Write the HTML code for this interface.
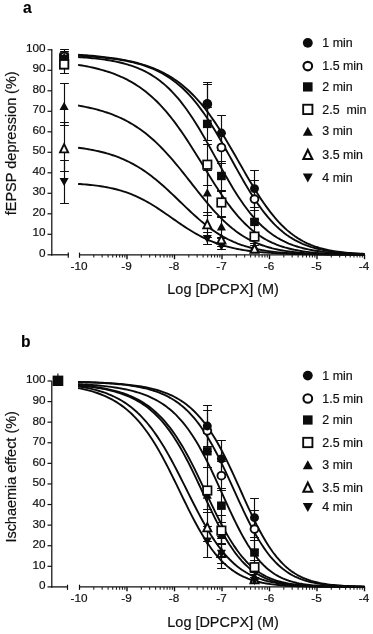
<!DOCTYPE html>
<html>
<head>
<meta charset="utf-8">
<title>DPCPX dose-response</title>
<style>
html,body{margin:0;padding:0;background:#fff;}
body{width:373px;height:634px;overflow:hidden;}
svg{display:block;will-change:transform;}
text{font-family:"Liberation Sans",sans-serif;fill:#111;stroke:#111;stroke-width:0.2px;}
.tk{font-size:11.75px;}
.tt{font-size:14.45px;}
.lg{font-size:12.4px;white-space:pre;}
.lt{font-size:15.6px;font-weight:bold;fill:#000;stroke-width:0.15px;}
</style>
</head>
<body>
<svg width="373" height="634" viewBox="0 0 373 634">
<rect width="373" height="634" fill="#fff"/>
<g id="chart-a">
<path d="M51.8 49 V255.4" stroke="#111" stroke-width="1.25" fill="none"/>
<path d="M47.5 254.8 H51.8" stroke="#111" stroke-width="1.2"/>
<text x="45.6" y="256.5" text-anchor="end" class="tk">0</text>
<path d="M47.5 234.3 H51.8" stroke="#111" stroke-width="1.2"/>
<text x="45.6" y="236" text-anchor="end" class="tk">10</text>
<path d="M47.5 213.8 H51.8" stroke="#111" stroke-width="1.2"/>
<text x="45.6" y="215.5" text-anchor="end" class="tk">20</text>
<path d="M47.5 193.3 H51.8" stroke="#111" stroke-width="1.2"/>
<text x="45.6" y="195" text-anchor="end" class="tk">30</text>
<path d="M47.5 172.8 H51.8" stroke="#111" stroke-width="1.2"/>
<text x="45.6" y="174.5" text-anchor="end" class="tk">40</text>
<path d="M47.5 152.3 H51.8" stroke="#111" stroke-width="1.2"/>
<text x="45.6" y="154" text-anchor="end" class="tk">50</text>
<path d="M47.5 131.8 H51.8" stroke="#111" stroke-width="1.2"/>
<text x="45.6" y="133.5" text-anchor="end" class="tk">60</text>
<path d="M47.5 111.3 H51.8" stroke="#111" stroke-width="1.2"/>
<text x="45.6" y="113" text-anchor="end" class="tk">70</text>
<path d="M47.5 90.8 H51.8" stroke="#111" stroke-width="1.2"/>
<text x="45.6" y="92.5" text-anchor="end" class="tk">80</text>
<path d="M47.5 70.3 H51.8" stroke="#111" stroke-width="1.2"/>
<text x="45.6" y="72" text-anchor="end" class="tk">90</text>
<path d="M47.5 49.8 H51.8" stroke="#111" stroke-width="1.2"/>
<text x="45.6" y="51.5" text-anchor="end" class="tk">100</text>
<path d="M51.1 254.8 H68.7" stroke="#111" stroke-width="1.3" fill="none"/>
<path d="M68.3 252.6 V257.8" stroke="#111" stroke-width="1.2"/>
<path d="M79 254.8 H365.1" stroke="#111" stroke-width="1.3" fill="none"/>
<path d="M79.5 252.6 V257.8" stroke="#111" stroke-width="1.2"/>
<text x="79" y="270" text-anchor="middle" class="tk">-10</text>
<path d="M93.8 254.8 V257.6" stroke="#1a1a1a" stroke-width="1.05"/>
<path d="M102.16 254.8 V257.6" stroke="#1a1a1a" stroke-width="1.05"/>
<path d="M108.1 254.8 V257.6" stroke="#1a1a1a" stroke-width="1.05"/>
<path d="M112.7 254.8 V257.6" stroke="#1a1a1a" stroke-width="1.05"/>
<path d="M116.46 254.8 V257.6" stroke="#1a1a1a" stroke-width="1.05"/>
<path d="M119.64 254.8 V257.6" stroke="#1a1a1a" stroke-width="1.05"/>
<path d="M122.4 254.8 V257.6" stroke="#1a1a1a" stroke-width="1.05"/>
<path d="M124.83 254.8 V257.6" stroke="#1a1a1a" stroke-width="1.05"/>
<path d="M127 254.8 V259.2" stroke="#111" stroke-width="1.4"/>
<text x="126.5" y="270" text-anchor="middle" class="tk">-9</text>
<path d="M141.3 254.8 V257.6" stroke="#1a1a1a" stroke-width="1.05"/>
<path d="M149.66 254.8 V257.6" stroke="#1a1a1a" stroke-width="1.05"/>
<path d="M155.6 254.8 V257.6" stroke="#1a1a1a" stroke-width="1.05"/>
<path d="M160.2 254.8 V257.6" stroke="#1a1a1a" stroke-width="1.05"/>
<path d="M163.96 254.8 V257.6" stroke="#1a1a1a" stroke-width="1.05"/>
<path d="M167.14 254.8 V257.6" stroke="#1a1a1a" stroke-width="1.05"/>
<path d="M169.9 254.8 V257.6" stroke="#1a1a1a" stroke-width="1.05"/>
<path d="M172.33 254.8 V257.6" stroke="#1a1a1a" stroke-width="1.05"/>
<path d="M174.5 254.8 V259.2" stroke="#111" stroke-width="1.4"/>
<text x="174" y="270" text-anchor="middle" class="tk">-8</text>
<path d="M188.8 254.8 V257.6" stroke="#1a1a1a" stroke-width="1.05"/>
<path d="M197.16 254.8 V257.6" stroke="#1a1a1a" stroke-width="1.05"/>
<path d="M203.1 254.8 V257.6" stroke="#1a1a1a" stroke-width="1.05"/>
<path d="M207.7 254.8 V257.6" stroke="#1a1a1a" stroke-width="1.05"/>
<path d="M211.46 254.8 V257.6" stroke="#1a1a1a" stroke-width="1.05"/>
<path d="M214.64 254.8 V257.6" stroke="#1a1a1a" stroke-width="1.05"/>
<path d="M217.4 254.8 V257.6" stroke="#1a1a1a" stroke-width="1.05"/>
<path d="M219.83 254.8 V257.6" stroke="#1a1a1a" stroke-width="1.05"/>
<path d="M222 254.8 V259.2" stroke="#111" stroke-width="1.4"/>
<text x="221.5" y="270" text-anchor="middle" class="tk">-7</text>
<path d="M236.3 254.8 V257.6" stroke="#1a1a1a" stroke-width="1.05"/>
<path d="M244.66 254.8 V257.6" stroke="#1a1a1a" stroke-width="1.05"/>
<path d="M250.6 254.8 V257.6" stroke="#1a1a1a" stroke-width="1.05"/>
<path d="M255.2 254.8 V257.6" stroke="#1a1a1a" stroke-width="1.05"/>
<path d="M258.96 254.8 V257.6" stroke="#1a1a1a" stroke-width="1.05"/>
<path d="M262.14 254.8 V257.6" stroke="#1a1a1a" stroke-width="1.05"/>
<path d="M264.9 254.8 V257.6" stroke="#1a1a1a" stroke-width="1.05"/>
<path d="M267.33 254.8 V257.6" stroke="#1a1a1a" stroke-width="1.05"/>
<path d="M269.5 254.8 V259.2" stroke="#111" stroke-width="1.4"/>
<text x="269" y="270" text-anchor="middle" class="tk">-6</text>
<path d="M283.8 254.8 V257.6" stroke="#1a1a1a" stroke-width="1.05"/>
<path d="M292.16 254.8 V257.6" stroke="#1a1a1a" stroke-width="1.05"/>
<path d="M298.1 254.8 V257.6" stroke="#1a1a1a" stroke-width="1.05"/>
<path d="M302.7 254.8 V257.6" stroke="#1a1a1a" stroke-width="1.05"/>
<path d="M306.46 254.8 V257.6" stroke="#1a1a1a" stroke-width="1.05"/>
<path d="M309.64 254.8 V257.6" stroke="#1a1a1a" stroke-width="1.05"/>
<path d="M312.4 254.8 V257.6" stroke="#1a1a1a" stroke-width="1.05"/>
<path d="M314.83 254.8 V257.6" stroke="#1a1a1a" stroke-width="1.05"/>
<path d="M317 254.8 V259.2" stroke="#111" stroke-width="1.4"/>
<text x="316.5" y="270" text-anchor="middle" class="tk">-5</text>
<path d="M331.3 254.8 V257.6" stroke="#1a1a1a" stroke-width="1.05"/>
<path d="M339.66 254.8 V257.6" stroke="#1a1a1a" stroke-width="1.05"/>
<path d="M345.6 254.8 V257.6" stroke="#1a1a1a" stroke-width="1.05"/>
<path d="M350.2 254.8 V257.6" stroke="#1a1a1a" stroke-width="1.05"/>
<path d="M353.96 254.8 V257.6" stroke="#1a1a1a" stroke-width="1.05"/>
<path d="M357.14 254.8 V257.6" stroke="#1a1a1a" stroke-width="1.05"/>
<path d="M359.9 254.8 V257.6" stroke="#1a1a1a" stroke-width="1.05"/>
<path d="M362.33 254.8 V257.6" stroke="#1a1a1a" stroke-width="1.05"/>
<path d="M364.5 254.8 V259.2" stroke="#111" stroke-width="1.4"/>
<text x="364" y="270" text-anchor="middle" class="tk">-4</text>
<text x="223.1" y="294.4" text-anchor="middle" class="tt">Log [DPCPX] (M)</text>
<text transform="translate(15.9 215.3) rotate(-90)" textLength="117.6" lengthAdjust="spacingAndGlyphs" class="tt">fEPSP depression</text>
<text transform="translate(15.9 93.9) rotate(-90)" class="tt">(%)</text>
<text x="23" y="12.9" class="lt">a</text>
<path d="M78.08 54.72 L80.12 54.86 L82.17 55 L84.21 55.14 L86.26 55.3 L88.3 55.46 L90.35 55.63 L92.4 55.8 L94.44 55.99 L96.49 56.19 L98.53 56.39 L100.58 56.61 L102.63 56.83 L104.67 57.07 L106.72 57.32 L108.76 57.58 L110.81 57.85 L112.86 58.14 L114.9 58.45 L116.95 58.77 L118.99 59.1 L121.04 59.45 L123.08 59.83 L125.13 60.22 L127.18 60.63 L129.22 61.06 L131.27 61.52 L133.31 62 L135.36 62.5 L137.41 63.03 L139.45 63.59 L141.5 64.18 L143.54 64.8 L145.59 65.46 L147.64 66.15 L149.68 66.87 L151.73 67.63 L153.77 68.44 L155.82 69.28 L157.86 70.18 L159.91 71.11 L161.96 72.1 L164 73.14 L166.05 74.23 L168.09 75.38 L170.14 76.59 L172.19 77.86 L174.23 79.19 L176.28 80.59 L178.32 82.06 L180.37 83.6 L182.42 85.22 L184.46 86.91 L186.51 88.68 L188.55 90.53 L190.6 92.47 L192.64 94.49 L194.69 96.6 L196.74 98.8 L198.78 101.09 L200.83 103.47 L202.87 105.94 L204.92 108.5 L206.97 111.15 L209.01 113.9 L211.06 116.73 L213.1 119.65 L215.15 122.65 L217.2 125.73 L219.24 128.89 L221.29 132.13 L223.33 135.43 L225.38 138.79 L227.43 142.21 L229.47 145.67 L231.52 149.18 L233.56 152.72 L235.61 156.28 L237.65 159.86 L239.7 163.45 L241.75 167.03 L243.79 170.6 L245.84 174.16 L247.88 177.68 L249.93 181.16 L251.98 184.59 L254.02 187.97 L256.07 191.28 L258.11 194.52 L260.16 197.68 L262.21 200.76 L264.25 203.75 L266.3 206.64 L268.34 209.43 L270.39 212.13 L272.43 214.71 L274.48 217.2 L276.53 219.57 L278.57 221.84 L280.62 224.01 L282.66 226.06 L284.71 228.01 L286.76 229.86 L288.8 231.61 L290.85 233.26 L292.89 234.81 L294.94 236.27 L296.99 237.64 L299.03 238.93 L301.08 240.13 L303.12 241.25 L305.17 242.3 L307.21 243.28 L309.26 244.19 L311.31 245.04 L313.35 245.83 L315.4 246.56 L317.44 247.23 L319.49 247.86 L321.54 248.44 L323.58 248.97 L325.63 249.46 L327.67 249.92 L329.72 250.34 L331.77 250.72 L333.81 251.08 L335.86 251.41 L337.9 251.7 L339.95 251.98 L342 252.23 L344.04 252.46 L346.09 252.67 L348.13 252.87 L350.18 253.04 L352.22 253.2 L354.27 253.35 L356.32 253.49 L358.36 253.61 L360.41 253.72 L362.45 253.82 L364.5 253.92" stroke="#0b0b0b" stroke-width="1.9" fill="none" stroke-linejoin="round"/>
<path d="M78.08 55.77 L80.12 55.87 L82.17 55.98 L84.21 56.1 L86.26 56.23 L88.3 56.36 L90.35 56.5 L92.4 56.65 L94.44 56.8 L96.49 56.97 L98.53 57.15 L100.58 57.33 L102.63 57.53 L104.67 57.74 L106.72 57.96 L108.76 58.2 L110.81 58.45 L112.86 58.72 L114.9 59 L116.95 59.3 L118.99 59.62 L121.04 59.95 L123.08 60.31 L125.13 60.69 L127.18 61.09 L129.22 61.52 L131.27 61.97 L133.31 62.45 L135.36 62.96 L137.41 63.5 L139.45 64.08 L141.5 64.69 L143.54 65.33 L145.59 66.02 L147.64 66.75 L149.68 67.52 L151.73 68.34 L153.77 69.2 L155.82 70.12 L157.86 71.09 L159.91 72.12 L161.96 73.21 L164 74.36 L166.05 75.58 L168.09 76.86 L170.14 78.22 L172.19 79.66 L174.23 81.17 L176.28 82.76 L178.32 84.43 L180.37 86.2 L182.42 88.05 L184.46 89.99 L186.51 92.03 L188.55 94.16 L190.6 96.4 L192.64 98.73 L194.69 101.16 L196.74 103.69 L198.78 106.32 L200.83 109.06 L202.87 111.89 L204.92 114.82 L206.97 117.84 L209.01 120.95 L211.06 124.15 L213.1 127.44 L215.15 130.8 L217.2 134.23 L219.24 137.73 L221.29 141.28 L223.33 144.88 L225.38 148.52 L227.43 152.19 L229.47 155.88 L231.52 159.58 L233.56 163.28 L235.61 166.98 L237.65 170.65 L239.7 174.29 L241.75 177.89 L243.79 181.45 L245.84 184.94 L247.88 188.37 L249.93 191.73 L251.98 195 L254.02 198.18 L256.07 201.27 L258.11 204.27 L260.16 207.16 L262.21 209.94 L264.25 212.62 L266.3 215.19 L268.34 217.64 L270.39 219.99 L272.43 222.22 L274.48 224.35 L276.53 226.37 L278.57 228.28 L280.62 230.09 L282.66 231.79 L284.71 233.4 L286.76 234.92 L288.8 236.34 L290.85 237.68 L292.89 238.93 L294.94 240.1 L296.99 241.2 L299.03 242.22 L301.08 243.17 L303.12 244.06 L305.17 244.89 L307.21 245.66 L309.26 246.37 L311.31 247.04 L313.35 247.65 L315.4 248.22 L317.44 248.75 L319.49 249.24 L321.54 249.69 L323.58 250.1 L325.63 250.49 L327.67 250.84 L329.72 251.17 L331.77 251.47 L333.81 251.75 L335.86 252.01 L337.9 252.24 L339.95 252.46 L342 252.66 L344.04 252.84 L346.09 253.01 L348.13 253.16 L350.18 253.31 L352.22 253.43 L354.27 253.55 L356.32 253.66 L358.36 253.76 L360.41 253.85 L362.45 253.94 L364.5 254.01" stroke="#0b0b0b" stroke-width="1.9" fill="none" stroke-linejoin="round"/>
<path d="M78.08 57.1 L80.12 57.23 L82.17 57.37 L84.21 57.52 L86.26 57.67 L88.3 57.84 L90.35 58.02 L92.4 58.22 L94.44 58.42 L96.49 58.64 L98.53 58.88 L100.58 59.13 L102.63 59.4 L104.67 59.68 L106.72 59.99 L108.76 60.31 L110.81 60.66 L112.86 61.03 L114.9 61.43 L116.95 61.85 L118.99 62.3 L121.04 62.78 L123.08 63.29 L125.13 63.84 L127.18 64.42 L129.22 65.04 L131.27 65.71 L133.31 66.41 L135.36 67.16 L137.41 67.96 L139.45 68.81 L141.5 69.71 L143.54 70.68 L145.59 71.7 L147.64 72.78 L149.68 73.93 L151.73 75.15 L153.77 76.44 L155.82 77.81 L157.86 79.25 L159.91 80.78 L161.96 82.4 L164 84.1 L166.05 85.89 L168.09 87.78 L170.14 89.76 L172.19 91.84 L174.23 94.03 L176.28 96.31 L178.32 98.7 L180.37 101.19 L182.42 103.79 L184.46 106.49 L186.51 109.29 L188.55 112.19 L190.6 115.18 L192.64 118.28 L194.69 121.46 L196.74 124.73 L198.78 128.08 L200.83 131.5 L202.87 134.99 L204.92 138.54 L206.97 142.13 L209.01 145.77 L211.06 149.45 L213.1 153.14 L215.15 156.85 L217.2 160.56 L219.24 164.26 L221.29 167.95 L223.33 171.6 L225.38 175.22 L227.43 178.79 L229.47 182.31 L231.52 185.76 L233.56 189.14 L235.61 192.43 L237.65 195.64 L239.7 198.76 L241.75 201.79 L243.79 204.71 L245.84 207.53 L247.88 210.24 L249.93 212.85 L251.98 215.34 L254.02 217.73 L256.07 220.01 L258.11 222.18 L260.16 224.24 L262.21 226.21 L264.25 228.06 L266.3 229.82 L268.34 231.48 L270.39 233.05 L272.43 234.53 L274.48 235.92 L276.53 237.22 L278.57 238.45 L280.62 239.6 L282.66 240.68 L284.71 241.69 L286.76 242.63 L288.8 243.51 L290.85 244.33 L292.89 245.1 L294.94 245.81 L296.99 246.48 L299.03 247.1 L301.08 247.68 L303.12 248.21 L305.17 248.71 L307.21 249.17 L309.26 249.6 L311.31 250 L313.35 250.36 L315.4 250.71 L317.44 251.02 L319.49 251.31 L321.54 251.59 L323.58 251.84 L325.63 252.07 L327.67 252.28 L329.72 252.48 L331.77 252.66 L333.81 252.83 L335.86 252.99 L337.9 253.13 L339.95 253.26 L342 253.39 L344.04 253.5 L346.09 253.6 L348.13 253.7 L350.18 253.79 L352.22 253.87 L354.27 253.95 L356.32 254.02 L358.36 254.08 L360.41 254.14 L362.45 254.19 L364.5 254.24" stroke="#0b0b0b" stroke-width="1.9" fill="none" stroke-linejoin="round"/>
<path d="M78.08 64.86 L80.12 65.19 L82.17 65.53 L84.21 65.9 L86.26 66.28 L88.3 66.68 L90.35 67.1 L92.4 67.55 L94.44 68.01 L96.49 68.51 L98.53 69.02 L100.58 69.56 L102.63 70.13 L104.67 70.73 L106.72 71.36 L108.76 72.02 L110.81 72.72 L112.86 73.45 L114.9 74.22 L116.95 75.02 L118.99 75.87 L121.04 76.76 L123.08 77.7 L125.13 78.68 L127.18 79.72 L129.22 80.8 L131.27 81.94 L133.31 83.13 L135.36 84.38 L137.41 85.69 L139.45 87.06 L141.5 88.5 L143.54 90 L145.59 91.57 L147.64 93.22 L149.68 94.93 L151.73 96.72 L153.77 98.59 L155.82 100.53 L157.86 102.55 L159.91 104.66 L161.96 106.84 L164 109.11 L166.05 111.45 L168.09 113.88 L170.14 116.39 L172.19 118.98 L174.23 121.64 L176.28 124.39 L178.32 127.2 L180.37 130.09 L182.42 133.05 L184.46 136.06 L186.51 139.14 L188.55 142.27 L190.6 145.45 L192.64 148.68 L194.69 151.94 L196.74 155.22 L198.78 158.53 L200.83 161.86 L202.87 165.19 L204.92 168.52 L206.97 171.85 L209.01 175.15 L211.06 178.43 L213.1 181.68 L215.15 184.89 L217.2 188.05 L219.24 191.16 L221.29 194.21 L223.33 197.19 L225.38 200.1 L227.43 202.94 L229.47 205.69 L231.52 208.36 L233.56 210.94 L235.61 213.43 L237.65 215.83 L239.7 218.13 L241.75 220.34 L243.79 222.45 L245.84 224.47 L247.88 226.4 L249.93 228.23 L251.98 229.97 L254.02 231.62 L256.07 233.18 L258.11 234.66 L260.16 236.05 L262.21 237.36 L264.25 238.6 L266.3 239.76 L268.34 240.85 L270.39 241.87 L272.43 242.83 L274.48 243.72 L276.53 244.56 L278.57 245.34 L280.62 246.06 L282.66 246.74 L284.71 247.37 L286.76 247.95 L288.8 248.49 L290.85 249 L292.89 249.46 L294.94 249.9 L296.99 250.3 L299.03 250.66 L301.08 251.01 L303.12 251.32 L305.17 251.61 L307.21 251.88 L309.26 252.13 L311.31 252.35 L313.35 252.56 L315.4 252.75 L317.44 252.93 L319.49 253.09 L321.54 253.24 L323.58 253.38 L325.63 253.5 L327.67 253.62 L329.72 253.72 L331.77 253.82 L333.81 253.91 L335.86 253.99 L337.9 254.06 L339.95 254.13 L342 254.19 L344.04 254.25 L346.09 254.3 L348.13 254.34 L350.18 254.39 L352.22 254.43 L354.27 254.46 L356.32 254.49 L358.36 254.52 L360.41 254.55 L362.45 254.57 L364.5 254.59" stroke="#0b0b0b" stroke-width="1.9" fill="none" stroke-linejoin="round"/>
<path d="M78.08 105.56 L80.12 105.91 L82.17 106.28 L84.21 106.67 L86.26 107.08 L88.3 107.51 L90.35 107.96 L92.4 108.43 L94.44 108.93 L96.49 109.45 L98.53 110 L100.58 110.58 L102.63 111.18 L104.67 111.82 L106.72 112.49 L108.76 113.19 L110.81 113.93 L112.86 114.7 L114.9 115.51 L116.95 116.36 L118.99 117.25 L121.04 118.19 L123.08 119.17 L125.13 120.19 L127.18 121.27 L129.22 122.39 L131.27 123.56 L133.31 124.79 L135.36 126.08 L137.41 127.41 L139.45 128.81 L141.5 130.27 L143.54 131.78 L145.59 133.36 L147.64 135 L149.68 136.7 L151.73 138.46 L153.77 140.28 L155.82 142.17 L157.86 144.13 L159.91 146.14 L161.96 148.21 L164 150.35 L166.05 152.54 L168.09 154.79 L170.14 157.09 L172.19 159.44 L174.23 161.83 L176.28 164.28 L178.32 166.76 L180.37 169.27 L182.42 171.81 L184.46 174.38 L186.51 176.97 L188.55 179.58 L190.6 182.19 L192.64 184.8 L194.69 187.41 L196.74 190.01 L198.78 192.59 L200.83 195.16 L202.87 197.69 L204.92 200.19 L206.97 202.65 L209.01 205.07 L211.06 207.44 L213.1 209.76 L215.15 212.02 L217.2 214.22 L219.24 216.36 L221.29 218.43 L223.33 220.44 L225.38 222.37 L227.43 224.23 L229.47 226.02 L231.52 227.73 L233.56 229.37 L235.61 230.94 L237.65 232.43 L239.7 233.86 L241.75 235.21 L243.79 236.5 L245.84 237.71 L247.88 238.86 L249.93 239.95 L251.98 240.97 L254.02 241.94 L256.07 242.85 L258.11 243.7 L260.16 244.5 L262.21 245.25 L264.25 245.95 L266.3 246.61 L268.34 247.22 L270.39 247.79 L272.43 248.33 L274.48 248.82 L276.53 249.29 L278.57 249.71 L280.62 250.11 L282.66 250.48 L284.71 250.83 L286.76 251.14 L288.8 251.44 L290.85 251.71 L292.89 251.96 L294.94 252.2 L296.99 252.41 L299.03 252.61 L301.08 252.79 L303.12 252.96 L305.17 253.12 L307.21 253.26 L309.26 253.39 L311.31 253.51 L313.35 253.62 L315.4 253.72 L317.44 253.82 L319.49 253.9 L321.54 253.98 L323.58 254.05 L325.63 254.12 L327.67 254.18 L329.72 254.24 L331.77 254.29 L333.81 254.33 L335.86 254.37 L337.9 254.41 L339.95 254.45 L342 254.48 L344.04 254.51 L346.09 254.54 L348.13 254.56 L350.18 254.58 L352.22 254.6 L354.27 254.62 L356.32 254.64 L358.36 254.65 L360.41 254.67 L362.45 254.68 L364.5 254.69" stroke="#0b0b0b" stroke-width="1.9" fill="none" stroke-linejoin="round"/>
<path d="M78.08 147.69 L80.12 147.97 L82.17 148.25 L84.21 148.56 L86.26 148.88 L88.3 149.23 L90.35 149.59 L92.4 149.97 L94.44 150.38 L96.49 150.81 L98.53 151.26 L100.58 151.74 L102.63 152.25 L104.67 152.79 L106.72 153.36 L108.76 153.96 L110.81 154.59 L112.86 155.26 L114.9 155.96 L116.95 156.7 L118.99 157.48 L121.04 158.3 L123.08 159.17 L125.13 160.07 L127.18 161.02 L129.22 162.02 L131.27 163.07 L133.31 164.16 L135.36 165.3 L137.41 166.5 L139.45 167.74 L141.5 169.04 L143.54 170.39 L145.59 171.79 L147.64 173.24 L149.68 174.74 L151.73 176.29 L153.77 177.89 L155.82 179.53 L157.86 181.23 L159.91 182.96 L161.96 184.74 L164 186.55 L166.05 188.4 L168.09 190.28 L170.14 192.18 L172.19 194.11 L174.23 196.06 L176.28 198.02 L178.32 199.99 L180.37 201.96 L182.42 203.93 L184.46 205.9 L186.51 207.86 L188.55 209.8 L190.6 211.72 L192.64 213.61 L194.69 215.48 L196.74 217.31 L198.78 219.11 L200.83 220.86 L202.87 222.57 L204.92 224.24 L206.97 225.85 L209.01 227.41 L211.06 228.92 L213.1 230.38 L215.15 231.78 L217.2 233.12 L219.24 234.41 L221.29 235.64 L223.33 236.82 L225.38 237.94 L227.43 239 L229.47 240.01 L231.52 240.97 L233.56 241.88 L235.61 242.74 L237.65 243.55 L239.7 244.31 L241.75 245.03 L243.79 245.71 L245.84 246.34 L247.88 246.94 L249.93 247.5 L251.98 248.02 L254.02 248.51 L256.07 248.97 L258.11 249.4 L260.16 249.8 L262.21 250.17 L264.25 250.51 L266.3 250.84 L268.34 251.13 L270.39 251.41 L272.43 251.67 L274.48 251.91 L276.53 252.14 L278.57 252.34 L280.62 252.53 L282.66 252.71 L284.71 252.87 L286.76 253.03 L288.8 253.17 L290.85 253.3 L292.89 253.42 L294.94 253.53 L296.99 253.63 L299.03 253.72 L301.08 253.81 L303.12 253.89 L305.17 253.97 L307.21 254.03 L309.26 254.1 L311.31 254.16 L313.35 254.21 L315.4 254.26 L317.44 254.3 L319.49 254.34 L321.54 254.38 L323.58 254.42 L325.63 254.45 L327.67 254.48 L329.72 254.51 L331.77 254.53 L333.81 254.55 L335.86 254.58 L337.9 254.59 L339.95 254.61 L342 254.63 L344.04 254.64 L346.09 254.66 L348.13 254.67 L350.18 254.68 L352.22 254.69 L354.27 254.7 L356.32 254.71 L358.36 254.72 L360.41 254.72 L362.45 254.73 L364.5 254.74" stroke="#0b0b0b" stroke-width="1.9" fill="none" stroke-linejoin="round"/>
<path d="M78.08 183.93 L80.12 184.06 L82.17 184.21 L84.21 184.37 L86.26 184.55 L88.3 184.73 L90.35 184.94 L92.4 185.16 L94.44 185.39 L96.49 185.65 L98.53 185.92 L100.58 186.22 L102.63 186.54 L104.67 186.88 L106.72 187.25 L108.76 187.64 L110.81 188.07 L112.86 188.52 L114.9 189.01 L116.95 189.52 L118.99 190.08 L121.04 190.67 L123.08 191.29 L125.13 191.96 L127.18 192.67 L129.22 193.41 L131.27 194.21 L133.31 195.04 L135.36 195.92 L137.41 196.84 L139.45 197.81 L141.5 198.82 L143.54 199.87 L145.59 200.97 L147.64 202.11 L149.68 203.3 L151.73 204.52 L153.77 205.77 L155.82 207.07 L157.86 208.39 L159.91 209.74 L161.96 211.11 L164 212.51 L166.05 213.92 L168.09 215.34 L170.14 216.77 L172.19 218.21 L174.23 219.64 L176.28 221.07 L178.32 222.48 L180.37 223.89 L182.42 225.27 L184.46 226.63 L186.51 227.97 L188.55 229.27 L190.6 230.55 L192.64 231.79 L194.69 232.99 L196.74 234.16 L198.78 235.28 L200.83 236.37 L202.87 237.41 L204.92 238.4 L206.97 239.36 L209.01 240.27 L211.06 241.14 L213.1 241.97 L215.15 242.76 L217.2 243.5 L219.24 244.21 L221.29 244.88 L223.33 245.51 L225.38 246.11 L227.43 246.67 L229.47 247.2 L231.52 247.7 L233.56 248.16 L235.61 248.6 L237.65 249.01 L239.7 249.4 L241.75 249.76 L243.79 250.1 L245.84 250.41 L247.88 250.71 L249.93 250.99 L251.98 251.25 L254.02 251.49 L256.07 251.71 L258.11 251.92 L260.16 252.12 L262.21 252.3 L264.25 252.47 L266.3 252.63 L268.34 252.78 L270.39 252.92 L272.43 253.05 L274.48 253.17 L276.53 253.28 L278.57 253.38 L280.62 253.48 L282.66 253.57 L284.71 253.65 L286.76 253.73 L288.8 253.8 L290.85 253.87 L292.89 253.93 L294.94 253.99 L296.99 254.05 L299.03 254.1 L301.08 254.15 L303.12 254.19 L305.17 254.23 L307.21 254.27 L309.26 254.3 L311.31 254.34 L313.35 254.37 L315.4 254.4 L317.44 254.42 L319.49 254.45 L321.54 254.47 L323.58 254.49 L325.63 254.52 L327.67 254.53 L329.72 254.55 L331.77 254.57 L333.81 254.58 L335.86 254.6 L337.9 254.61 L339.95 254.62 L342 254.63 L344.04 254.65 L346.09 254.66 L348.13 254.67 L350.18 254.67 L352.22 254.68 L354.27 254.69 L356.32 254.7 L358.36 254.7 L360.41 254.71 L362.45 254.72 L364.5 254.72" stroke="#0b0b0b" stroke-width="1.9" fill="none" stroke-linejoin="round"/>
<path d="M64.5 160.5 V203.5 M60.1 160.5 H68.9 M60.1 203.5 H68.9" stroke="#0d0d0d" stroke-width="1.15" fill="none"/>
<path d="M64.5 122.5 V171.5 M60.1 122.5 H68.9 M60.1 171.5 H68.9" stroke="#0d0d0d" stroke-width="1.15" fill="none"/>
<path d="M64.5 83.5 V125.5 M60.1 83.5 H68.9 M60.1 125.5 H68.9" stroke="#0d0d0d" stroke-width="1.15" fill="none"/>
<path d="M64.5 49.5 V61.5 M60.1 49.5 H68.9 M60.1 61.5 H68.9" stroke="#0d0d0d" stroke-width="1.15" fill="none"/>
<path d="M64.5 51.5 V60.5 M60.1 51.5 H68.9 M60.1 60.5 H68.9" stroke="#0d0d0d" stroke-width="1.15" fill="none"/>
<path d="M64.5 55.5 V73.5 M60.1 55.5 H68.9 M60.1 73.5 H68.9" stroke="#0d0d0d" stroke-width="1.15" fill="none"/>
<path d="M207.5 84.5 V123.5 M203.1 84.5 H211.9 M203.1 123.5 H211.9" stroke="#0d0d0d" stroke-width="1.15" fill="none"/>
<path d="M207.5 82.5 V124.5 M203.1 82.5 H211.9 M203.1 124.5 H211.9" stroke="#0d0d0d" stroke-width="1.15" fill="none"/>
<path d="M207.5 107.5 V140.5 M203.1 107.5 H211.9 M203.1 140.5 H211.9" stroke="#0d0d0d" stroke-width="1.15" fill="none"/>
<path d="M207.5 144.5 V185.5 M203.1 144.5 H211.9 M203.1 185.5 H211.9" stroke="#0d0d0d" stroke-width="1.15" fill="none"/>
<path d="M207.5 170.5 V215.5 M203.1 170.5 H211.9 M203.1 215.5 H211.9" stroke="#0d0d0d" stroke-width="1.15" fill="none"/>
<path d="M207.5 212.5 V237.5 M203.1 212.5 H211.9 M203.1 237.5 H211.9" stroke="#0d0d0d" stroke-width="1.15" fill="none"/>
<path d="M207.5 232.5 V244.5 M203.1 232.5 H211.9 M203.1 244.5 H211.9" stroke="#0d0d0d" stroke-width="1.15" fill="none"/>
<path d="M221.5 115.5 V150.5 M217.1 115.5 H225.9 M217.1 150.5 H225.9" stroke="#0d0d0d" stroke-width="1.15" fill="none"/>
<path d="M221.5 133.5 V163.5 M217.1 133.5 H225.9 M217.1 163.5 H225.9" stroke="#0d0d0d" stroke-width="1.15" fill="none"/>
<path d="M221.5 161.5 V190.5 M217.1 161.5 H225.9 M217.1 190.5 H225.9" stroke="#0d0d0d" stroke-width="1.15" fill="none"/>
<path d="M221.5 191.5 V216.5 M217.1 191.5 H225.9 M217.1 216.5 H225.9" stroke="#0d0d0d" stroke-width="1.15" fill="none"/>
<path d="M221.5 217.5 V237.5 M217.1 217.5 H225.9 M217.1 237.5 H225.9" stroke="#0d0d0d" stroke-width="1.15" fill="none"/>
<path d="M221.5 243.5 V249.5 M217.1 243.5 H225.9 M217.1 249.5 H225.9" stroke="#0d0d0d" stroke-width="1.15" fill="none"/>
<path d="M221.5 238.5 V246.5 M217.1 238.5 H225.9 M217.1 246.5 H225.9" stroke="#0d0d0d" stroke-width="1.15" fill="none"/>
<path d="M254.5 170.5 V207.5 M250.1 170.5 H258.9 M250.1 207.5 H258.9" stroke="#0d0d0d" stroke-width="1.15" fill="none"/>
<path d="M254.5 180.5 V219.5 M250.1 180.5 H258.9 M250.1 219.5 H258.9" stroke="#0d0d0d" stroke-width="1.15" fill="none"/>
<path d="M254.5 210.5 V233.5 M250.1 210.5 H258.9 M250.1 233.5 H258.9" stroke="#0d0d0d" stroke-width="1.15" fill="none"/>
<path d="M254.5 233.5 V243.5 M250.1 233.5 H258.9 M250.1 243.5 H258.9" stroke="#0d0d0d" stroke-width="1.15" fill="none"/>
<path d="M254.5 243.5 V250.5 M250.1 243.5 H258.9 M250.1 250.5 H258.9" stroke="#0d0d0d" stroke-width="1.15" fill="none"/>
<path d="M254.5 245.5 V252.5 M250.1 245.5 H258.9 M250.1 252.5 H258.9" stroke="#0d0d0d" stroke-width="1.15" fill="none"/>
<path d="M64.1 186.1 L68.65 177.9 L59.55 177.9 Z" fill="#0b0b0b"/>
<path d="M64.1 141.9 L69.65 153.3 L58.55 153.3 Z" fill="#0b0b0b"/>
<path d="M64.1 146.24 L66.61 151.4 L61.59 151.4 Z" fill="#fff"/>
<path d="M64.1 101.7 L68.65 109.9 L59.55 109.9 Z" fill="#0b0b0b"/>
<ellipse cx="64.1" cy="56.4" rx="4.5" ry="4.4" fill="#0b0b0b"/>
<rect x="59.75" y="52.4" width="8.7" height="8.4" fill="#0b0b0b"/>
<rect x="59.9" y="60.05" width="8.4" height="8.5" fill="#fff" stroke="#0b0b0b" stroke-width="1.7"/>
<ellipse cx="207.3" cy="104.3" rx="3.95" ry="3.85" fill="#fff" stroke="#0b0b0b" stroke-width="1.9"/>
<ellipse cx="207.3" cy="103.4" rx="4.5" ry="4.4" fill="#0b0b0b"/>
<rect x="202.95" y="119.7" width="8.7" height="8.4" fill="#0b0b0b"/>
<rect x="203.1" y="160.45" width="8.4" height="8.5" fill="#fff" stroke="#0b0b0b" stroke-width="1.7"/>
<path d="M207.3 188.3 L211.85 196.5 L202.75 196.5 Z" fill="#0b0b0b"/>
<path d="M207.3 217.9 L212.85 229.3 L201.75 229.3 Z" fill="#0b0b0b"/>
<path d="M207.3 222.24 L209.81 227.4 L204.79 227.4 Z" fill="#fff"/>
<path d="M207.3 243.3 L211.85 235.1 L202.75 235.1 Z" fill="#0b0b0b"/>
<ellipse cx="221.4" cy="133" rx="4.5" ry="4.4" fill="#0b0b0b"/>
<ellipse cx="221.4" cy="147.5" rx="3.95" ry="3.85" fill="#fff" stroke="#0b0b0b" stroke-width="1.9"/>
<rect x="217.05" y="171.8" width="8.7" height="8.4" fill="#0b0b0b"/>
<rect x="217.2" y="198.25" width="8.4" height="8.5" fill="#fff" stroke="#0b0b0b" stroke-width="1.7"/>
<path d="M221.4 222.3 L225.95 230.5 L216.85 230.5 Z" fill="#0b0b0b"/>
<path d="M221.4 250.6 L225.95 242.4 L216.85 242.4 Z" fill="#0b0b0b"/>
<path d="M221.4 233.1 L226.95 244.5 L215.85 244.5 Z" fill="#0b0b0b"/>
<path d="M221.4 237.44 L223.91 242.6 L218.89 242.6 Z" fill="#fff"/>
<ellipse cx="254.5" cy="188.6" rx="4.5" ry="4.4" fill="#0b0b0b"/>
<ellipse cx="254.5" cy="199.1" rx="3.95" ry="3.85" fill="#fff" stroke="#0b0b0b" stroke-width="1.9"/>
<rect x="250.15" y="217.7" width="8.7" height="8.4" fill="#0b0b0b"/>
<rect x="250.3" y="232.35" width="8.4" height="8.5" fill="#fff" stroke="#0b0b0b" stroke-width="1.7"/>
<path d="M254.5 242.4 L259.05 250.6 L249.95 250.6 Z" fill="#0b0b0b"/>
<path d="M254.5 242.3 L260.05 253.7 L248.95 253.7 Z" fill="#0b0b0b"/>
<path d="M254.5 246.64 L257.01 251.8 L251.99 251.8 Z" fill="#fff"/>
<path d="M59.1 60.5 V54.5 Q59.1 52.2 61.4 52.2 H66.8 Q69.1 52.2 69.1 54.5 V60.5 Z" fill="#0b0b0b"/>
<path d="M61.9 55 Q62.6 53.9 63.6 53.8 M64.8 53.8 Q65.8 53.9 66.4 55" stroke="#e8e8e8" stroke-width="0.9" fill="none"/>
<rect x="59.9" y="60.05" width="8.4" height="8.5" fill="#fff" stroke="#0b0b0b" stroke-width="1.7"/>
<ellipse cx="307.8" cy="42.9" rx="4.95" ry="4.84" fill="#0b0b0b"/>
<text x="322.3" y="46.9" class="lg" xml:space="preserve">1 min</text>
<ellipse cx="307.8" cy="66.1" rx="4.35" ry="4.24" fill="#fff" stroke="#0b0b0b" stroke-width="2.09"/>
<text x="322.3" y="70.2" class="lg" xml:space="preserve">1.5 min</text>
<rect x="303.01" y="82.28" width="9.57" height="9.24" fill="#0b0b0b"/>
<text x="322.3" y="91.2" class="lg" xml:space="preserve">2 min</text>
<rect x="303.18" y="104.73" width="9.24" height="9.35" fill="#fff" stroke="#0b0b0b" stroke-width="1.87"/>
<text x="322.3" y="113.7" class="lg" xml:space="preserve">2.5  min</text>
<path d="M307.8 126.79 L312.81 135.81 L302.8 135.81 Z" fill="#0b0b0b"/>
<text x="322.3" y="135.1" class="lg" xml:space="preserve">3 min</text>
<path d="M307.8 147.43 L313.91 159.97 L301.69 159.97 Z" fill="#0b0b0b"/>
<path d="M307.8 152.2 L310.56 157.88 L305.04 157.88 Z" fill="#fff"/>
<text x="322.3" y="158.6" class="lg" xml:space="preserve">3.5 min</text>
<path d="M307.8 182.51 L312.81 173.49 L302.8 173.49 Z" fill="#0b0b0b"/>
<text x="322.3" y="181.6" class="lg" xml:space="preserve">4 min</text>
</g>
<g id="chart-b">
<path d="M51.8 381 V587.5" stroke="#111" stroke-width="1.25" fill="none"/>
<path d="M47.5 586.9 H51.8" stroke="#111" stroke-width="1.2"/>
<text x="45.6" y="589.3" text-anchor="end" class="tk">0</text>
<path d="M47.5 566.31 H51.8" stroke="#111" stroke-width="1.2"/>
<text x="45.6" y="568.71" text-anchor="end" class="tk">10</text>
<path d="M47.5 545.72 H51.8" stroke="#111" stroke-width="1.2"/>
<text x="45.6" y="548.12" text-anchor="end" class="tk">20</text>
<path d="M47.5 525.13 H51.8" stroke="#111" stroke-width="1.2"/>
<text x="45.6" y="527.53" text-anchor="end" class="tk">30</text>
<path d="M47.5 504.54 H51.8" stroke="#111" stroke-width="1.2"/>
<text x="45.6" y="506.94" text-anchor="end" class="tk">40</text>
<path d="M47.5 483.95 H51.8" stroke="#111" stroke-width="1.2"/>
<text x="45.6" y="486.35" text-anchor="end" class="tk">50</text>
<path d="M47.5 463.36 H51.8" stroke="#111" stroke-width="1.2"/>
<text x="45.6" y="465.76" text-anchor="end" class="tk">60</text>
<path d="M47.5 442.77 H51.8" stroke="#111" stroke-width="1.2"/>
<text x="45.6" y="445.17" text-anchor="end" class="tk">70</text>
<path d="M47.5 422.18 H51.8" stroke="#111" stroke-width="1.2"/>
<text x="45.6" y="424.58" text-anchor="end" class="tk">80</text>
<path d="M47.5 401.59 H51.8" stroke="#111" stroke-width="1.2"/>
<text x="45.6" y="403.99" text-anchor="end" class="tk">90</text>
<path d="M47.5 381 H51.8" stroke="#111" stroke-width="1.2"/>
<text x="45.6" y="383.4" text-anchor="end" class="tk">100</text>
<path d="M51.1 586.9 H67.9" stroke="#111" stroke-width="1.3" fill="none"/>
<path d="M67.5 584.7 V589.9" stroke="#111" stroke-width="1.2"/>
<path d="M79 586.9 H365.1" stroke="#111" stroke-width="1.3" fill="none"/>
<path d="M79.5 584.7 V589.9" stroke="#111" stroke-width="1.2"/>
<text x="79" y="602.3" text-anchor="middle" class="tk">-10</text>
<path d="M93.8 586.9 V589.7" stroke="#1a1a1a" stroke-width="1.05"/>
<path d="M102.16 586.9 V589.7" stroke="#1a1a1a" stroke-width="1.05"/>
<path d="M108.1 586.9 V589.7" stroke="#1a1a1a" stroke-width="1.05"/>
<path d="M112.7 586.9 V589.7" stroke="#1a1a1a" stroke-width="1.05"/>
<path d="M116.46 586.9 V589.7" stroke="#1a1a1a" stroke-width="1.05"/>
<path d="M119.64 586.9 V589.7" stroke="#1a1a1a" stroke-width="1.05"/>
<path d="M122.4 586.9 V589.7" stroke="#1a1a1a" stroke-width="1.05"/>
<path d="M124.83 586.9 V589.7" stroke="#1a1a1a" stroke-width="1.05"/>
<path d="M127 586.9 V591.3" stroke="#111" stroke-width="1.4"/>
<text x="126.5" y="602.3" text-anchor="middle" class="tk">-9</text>
<path d="M141.3 586.9 V589.7" stroke="#1a1a1a" stroke-width="1.05"/>
<path d="M149.66 586.9 V589.7" stroke="#1a1a1a" stroke-width="1.05"/>
<path d="M155.6 586.9 V589.7" stroke="#1a1a1a" stroke-width="1.05"/>
<path d="M160.2 586.9 V589.7" stroke="#1a1a1a" stroke-width="1.05"/>
<path d="M163.96 586.9 V589.7" stroke="#1a1a1a" stroke-width="1.05"/>
<path d="M167.14 586.9 V589.7" stroke="#1a1a1a" stroke-width="1.05"/>
<path d="M169.9 586.9 V589.7" stroke="#1a1a1a" stroke-width="1.05"/>
<path d="M172.33 586.9 V589.7" stroke="#1a1a1a" stroke-width="1.05"/>
<path d="M174.5 586.9 V591.3" stroke="#111" stroke-width="1.4"/>
<text x="174" y="602.3" text-anchor="middle" class="tk">-8</text>
<path d="M188.8 586.9 V589.7" stroke="#1a1a1a" stroke-width="1.05"/>
<path d="M197.16 586.9 V589.7" stroke="#1a1a1a" stroke-width="1.05"/>
<path d="M203.1 586.9 V589.7" stroke="#1a1a1a" stroke-width="1.05"/>
<path d="M207.7 586.9 V589.7" stroke="#1a1a1a" stroke-width="1.05"/>
<path d="M211.46 586.9 V589.7" stroke="#1a1a1a" stroke-width="1.05"/>
<path d="M214.64 586.9 V589.7" stroke="#1a1a1a" stroke-width="1.05"/>
<path d="M217.4 586.9 V589.7" stroke="#1a1a1a" stroke-width="1.05"/>
<path d="M219.83 586.9 V589.7" stroke="#1a1a1a" stroke-width="1.05"/>
<path d="M222 586.9 V591.3" stroke="#111" stroke-width="1.4"/>
<text x="221.5" y="602.3" text-anchor="middle" class="tk">-7</text>
<path d="M236.3 586.9 V589.7" stroke="#1a1a1a" stroke-width="1.05"/>
<path d="M244.66 586.9 V589.7" stroke="#1a1a1a" stroke-width="1.05"/>
<path d="M250.6 586.9 V589.7" stroke="#1a1a1a" stroke-width="1.05"/>
<path d="M255.2 586.9 V589.7" stroke="#1a1a1a" stroke-width="1.05"/>
<path d="M258.96 586.9 V589.7" stroke="#1a1a1a" stroke-width="1.05"/>
<path d="M262.14 586.9 V589.7" stroke="#1a1a1a" stroke-width="1.05"/>
<path d="M264.9 586.9 V589.7" stroke="#1a1a1a" stroke-width="1.05"/>
<path d="M267.33 586.9 V589.7" stroke="#1a1a1a" stroke-width="1.05"/>
<path d="M269.5 586.9 V591.3" stroke="#111" stroke-width="1.4"/>
<text x="269" y="602.3" text-anchor="middle" class="tk">-6</text>
<path d="M283.8 586.9 V589.7" stroke="#1a1a1a" stroke-width="1.05"/>
<path d="M292.16 586.9 V589.7" stroke="#1a1a1a" stroke-width="1.05"/>
<path d="M298.1 586.9 V589.7" stroke="#1a1a1a" stroke-width="1.05"/>
<path d="M302.7 586.9 V589.7" stroke="#1a1a1a" stroke-width="1.05"/>
<path d="M306.46 586.9 V589.7" stroke="#1a1a1a" stroke-width="1.05"/>
<path d="M309.64 586.9 V589.7" stroke="#1a1a1a" stroke-width="1.05"/>
<path d="M312.4 586.9 V589.7" stroke="#1a1a1a" stroke-width="1.05"/>
<path d="M314.83 586.9 V589.7" stroke="#1a1a1a" stroke-width="1.05"/>
<path d="M317 586.9 V591.3" stroke="#111" stroke-width="1.4"/>
<text x="316.5" y="602.3" text-anchor="middle" class="tk">-5</text>
<path d="M331.3 586.9 V589.7" stroke="#1a1a1a" stroke-width="1.05"/>
<path d="M339.66 586.9 V589.7" stroke="#1a1a1a" stroke-width="1.05"/>
<path d="M345.6 586.9 V589.7" stroke="#1a1a1a" stroke-width="1.05"/>
<path d="M350.2 586.9 V589.7" stroke="#1a1a1a" stroke-width="1.05"/>
<path d="M353.96 586.9 V589.7" stroke="#1a1a1a" stroke-width="1.05"/>
<path d="M357.14 586.9 V589.7" stroke="#1a1a1a" stroke-width="1.05"/>
<path d="M359.9 586.9 V589.7" stroke="#1a1a1a" stroke-width="1.05"/>
<path d="M362.33 586.9 V589.7" stroke="#1a1a1a" stroke-width="1.05"/>
<path d="M364.5 586.9 V591.3" stroke="#111" stroke-width="1.4"/>
<text x="364" y="602.3" text-anchor="middle" class="tk">-4</text>
<text x="223.1" y="626.5" text-anchor="middle" class="tt">Log [DPCPX] (M)</text>
<text transform="translate(15.9 542.6) rotate(-90)" textLength="105" lengthAdjust="spacingAndGlyphs" class="tt">Ischaemia effect</text>
<text transform="translate(15.9 433.6) rotate(-90)" class="tt">(%)</text>
<text x="21" y="347.4" class="lt">b</text>
<path d="M78.08 381.98 L80.12 382.03 L82.17 382.08 L84.21 382.14 L86.26 382.19 L88.3 382.26 L90.35 382.32 L92.4 382.39 L94.44 382.47 L96.49 382.55 L98.53 382.63 L100.58 382.72 L102.63 382.82 L104.67 382.92 L106.72 383.03 L108.76 383.14 L110.81 383.27 L112.86 383.4 L114.9 383.54 L116.95 383.69 L118.99 383.85 L121.04 384.02 L123.08 384.2 L125.13 384.4 L127.18 384.61 L129.22 384.83 L131.27 385.07 L133.31 385.33 L135.36 385.6 L137.41 385.89 L139.45 386.21 L141.5 386.54 L143.54 386.9 L145.59 387.29 L147.64 387.7 L149.68 388.14 L151.73 388.62 L153.77 389.13 L155.82 389.67 L157.86 390.26 L159.91 390.89 L161.96 391.56 L164 392.28 L166.05 393.05 L168.09 393.88 L170.14 394.77 L172.19 395.72 L174.23 396.74 L176.28 397.83 L178.32 399 L180.37 400.25 L182.42 401.58 L184.46 403.01 L186.51 404.54 L188.55 406.16 L190.6 407.9 L192.64 409.75 L194.69 411.71 L196.74 413.8 L198.78 416.02 L200.83 418.37 L202.87 420.86 L204.92 423.49 L206.97 426.26 L209.01 429.18 L211.06 432.25 L213.1 435.46 L215.15 438.83 L217.2 442.33 L219.24 445.98 L221.29 449.77 L223.33 453.69 L225.38 457.73 L227.43 461.88 L229.47 466.13 L231.52 470.48 L233.56 474.9 L235.61 479.37 L237.65 483.9 L239.7 488.44 L241.75 493 L243.79 497.55 L245.84 502.06 L247.88 506.54 L249.93 510.94 L251.98 515.27 L254.02 519.5 L256.07 523.63 L258.11 527.63 L260.16 531.49 L262.21 535.21 L264.25 538.78 L266.3 542.2 L268.34 545.45 L270.39 548.53 L272.43 551.45 L274.48 554.21 L276.53 556.8 L278.57 559.23 L280.62 561.51 L282.66 563.63 L284.71 565.61 L286.76 567.44 L288.8 569.14 L290.85 570.71 L292.89 572.16 L294.94 573.5 L296.99 574.73 L299.03 575.86 L301.08 576.89 L303.12 577.84 L305.17 578.7 L307.21 579.49 L309.26 580.21 L311.31 580.86 L313.35 581.45 L315.4 581.99 L317.44 582.48 L319.49 582.93 L321.54 583.33 L323.58 583.69 L325.63 584.02 L327.67 584.32 L329.72 584.58 L331.77 584.83 L333.81 585.04 L335.86 585.24 L337.9 585.41 L339.95 585.57 L342 585.71 L344.04 585.84 L346.09 585.95 L348.13 586.06 L350.18 586.15 L352.22 586.23 L354.27 586.3 L356.32 586.37 L358.36 586.43 L360.41 586.48 L362.45 586.53 L364.5 586.57" stroke="#0b0b0b" stroke-width="1.9" fill="none" stroke-linejoin="round"/>
<path d="M78.08 381.99 L80.12 382.04 L82.17 382.1 L84.21 382.17 L86.26 382.23 L88.3 382.31 L90.35 382.38 L92.4 382.46 L94.44 382.55 L96.49 382.64 L98.53 382.74 L100.58 382.85 L102.63 382.96 L104.67 383.08 L106.72 383.21 L108.76 383.35 L110.81 383.5 L112.86 383.66 L114.9 383.83 L116.95 384.01 L118.99 384.2 L121.04 384.41 L123.08 384.63 L125.13 384.87 L127.18 385.12 L129.22 385.4 L131.27 385.69 L133.31 386.01 L135.36 386.34 L137.41 386.71 L139.45 387.09 L141.5 387.51 L143.54 387.96 L145.59 388.44 L147.64 388.95 L149.68 389.5 L151.73 390.1 L153.77 390.73 L155.82 391.42 L157.86 392.15 L159.91 392.93 L161.96 393.78 L164 394.68 L166.05 395.65 L168.09 396.69 L170.14 397.8 L172.19 398.99 L174.23 400.26 L176.28 401.62 L178.32 403.08 L180.37 404.63 L182.42 406.29 L184.46 408.06 L186.51 409.94 L188.55 411.94 L190.6 414.07 L192.64 416.32 L194.69 418.71 L196.74 421.24 L198.78 423.91 L200.83 426.72 L202.87 429.68 L204.92 432.78 L206.97 436.03 L209.01 439.42 L211.06 442.96 L213.1 446.63 L215.15 450.44 L217.2 454.37 L219.24 458.42 L221.29 462.58 L223.33 466.84 L225.38 471.17 L227.43 475.58 L229.47 480.04 L231.52 484.54 L233.56 489.05 L235.61 493.57 L237.65 498.08 L239.7 502.55 L241.75 506.97 L243.79 511.33 L245.84 515.6 L247.88 519.77 L249.93 523.84 L251.98 527.78 L254.02 531.59 L256.07 535.25 L258.11 538.77 L260.16 542.13 L262.21 545.34 L264.25 548.38 L266.3 551.26 L268.34 553.98 L270.39 556.54 L272.43 558.94 L274.48 561.2 L276.53 563.3 L278.57 565.26 L280.62 567.08 L282.66 568.78 L284.71 570.34 L286.76 571.79 L288.8 573.13 L290.85 574.36 L292.89 575.49 L294.94 576.53 L296.99 577.48 L299.03 578.36 L301.08 579.16 L303.12 579.89 L305.17 580.55 L307.21 581.16 L309.26 581.71 L311.31 582.21 L313.35 582.67 L315.4 583.09 L317.44 583.46 L319.49 583.8 L321.54 584.11 L323.58 584.39 L325.63 584.64 L327.67 584.87 L329.72 585.08 L331.77 585.26 L333.81 585.43 L335.86 585.58 L337.9 585.72 L339.95 585.84 L342 585.95 L344.04 586.05 L346.09 586.14 L348.13 586.22 L350.18 586.29 L352.22 586.36 L354.27 586.42 L356.32 586.47 L358.36 586.52 L360.41 586.56 L362.45 586.59 L364.5 586.63" stroke="#0b0b0b" stroke-width="1.9" fill="none" stroke-linejoin="round"/>
<path d="M78.08 384.05 L80.12 384.16 L82.17 384.28 L84.21 384.4 L86.26 384.53 L88.3 384.67 L90.35 384.82 L92.4 384.97 L94.44 385.14 L96.49 385.31 L98.53 385.5 L100.58 385.69 L102.63 385.9 L104.67 386.12 L106.72 386.36 L108.76 386.6 L110.81 386.87 L112.86 387.15 L114.9 387.45 L116.95 387.77 L118.99 388.1 L121.04 388.46 L123.08 388.85 L125.13 389.25 L127.18 389.69 L129.22 390.15 L131.27 390.64 L133.31 391.17 L135.36 391.73 L137.41 392.33 L139.45 392.96 L141.5 393.64 L143.54 394.36 L145.59 395.14 L147.64 395.96 L149.68 396.84 L151.73 397.78 L153.77 398.78 L155.82 399.85 L157.86 400.98 L159.91 402.2 L161.96 403.49 L164 404.87 L166.05 406.33 L168.09 407.89 L170.14 409.55 L172.19 411.32 L174.23 413.19 L176.28 415.18 L178.32 417.29 L180.37 419.53 L182.42 421.89 L184.46 424.38 L186.51 427.02 L188.55 429.79 L190.6 432.7 L192.64 435.76 L194.69 438.97 L196.74 442.31 L198.78 445.8 L200.83 449.43 L202.87 453.19 L204.92 457.08 L206.97 461.09 L209.01 465.21 L211.06 469.44 L213.1 473.75 L215.15 478.14 L217.2 482.58 L219.24 487.08 L221.29 491.59 L223.33 496.12 L225.38 500.64 L227.43 505.13 L229.47 509.57 L231.52 513.95 L233.56 518.25 L235.61 522.45 L237.65 526.54 L239.7 530.5 L241.75 534.33 L243.79 538.01 L245.84 541.53 L247.88 544.9 L249.93 548.1 L251.98 551.13 L254.02 553.99 L256.07 556.68 L258.11 559.21 L260.16 561.57 L262.21 563.77 L264.25 565.82 L266.3 567.72 L268.34 569.47 L270.39 571.09 L272.43 572.58 L274.48 573.95 L276.53 575.2 L278.57 576.35 L280.62 577.4 L282.66 578.35 L284.71 579.22 L286.76 580 L288.8 580.72 L290.85 581.36 L292.89 581.95 L294.94 582.47 L296.99 582.95 L299.03 583.38 L301.08 583.76 L303.12 584.11 L305.17 584.42 L307.21 584.69 L309.26 584.94 L311.31 585.16 L313.35 585.36 L315.4 585.54 L317.44 585.69 L319.49 585.83 L321.54 585.96 L323.58 586.07 L325.63 586.17 L327.67 586.25 L329.72 586.33 L331.77 586.4 L333.81 586.46 L335.86 586.51 L337.9 586.56 L339.95 586.6 L342 586.64 L344.04 586.67 L346.09 586.7 L348.13 586.73 L350.18 586.75 L352.22 586.77 L354.27 586.78 L356.32 586.8 L358.36 586.81 L360.41 586.82 L362.45 586.83 L364.5 586.84" stroke="#0b0b0b" stroke-width="1.9" fill="none" stroke-linejoin="round"/>
<path d="M78.08 384.98 L80.12 385.17 L82.17 385.37 L84.21 385.57 L86.26 385.8 L88.3 386.03 L90.35 386.28 L92.4 386.55 L94.44 386.83 L96.49 387.13 L98.53 387.44 L100.58 387.78 L102.63 388.14 L104.67 388.52 L106.72 388.93 L108.76 389.36 L110.81 389.82 L112.86 390.31 L114.9 390.83 L116.95 391.38 L118.99 391.97 L121.04 392.6 L123.08 393.27 L125.13 393.98 L127.18 394.74 L129.22 395.55 L131.27 396.41 L133.31 397.32 L135.36 398.3 L137.41 399.34 L139.45 400.44 L141.5 401.62 L143.54 402.87 L145.59 404.2 L147.64 405.61 L149.68 407.11 L151.73 408.71 L153.77 410.39 L155.82 412.19 L157.86 414.08 L159.91 416.09 L161.96 418.21 L164 420.45 L166.05 422.81 L168.09 425.3 L170.14 427.91 L172.19 430.66 L174.23 433.53 L176.28 436.54 L178.32 439.68 L180.37 442.96 L182.42 446.36 L184.46 449.88 L186.51 453.53 L188.55 457.29 L190.6 461.16 L192.64 465.13 L194.69 469.19 L196.74 473.33 L198.78 477.54 L200.83 481.8 L202.87 486.09 L204.92 490.41 L206.97 494.74 L209.01 499.07 L211.06 503.37 L213.1 507.63 L215.15 511.83 L217.2 515.97 L219.24 520.02 L221.29 523.98 L223.33 527.83 L225.38 531.55 L227.43 535.15 L229.47 538.62 L231.52 541.94 L233.56 545.11 L235.61 548.13 L237.65 551 L239.7 553.72 L241.75 556.29 L243.79 558.7 L245.84 560.97 L247.88 563.09 L249.93 565.07 L251.98 566.91 L254.02 568.63 L256.07 570.22 L258.11 571.69 L260.16 573.05 L262.21 574.3 L264.25 575.45 L266.3 576.51 L268.34 577.49 L270.39 578.38 L272.43 579.19 L274.48 579.93 L276.53 580.61 L278.57 581.23 L280.62 581.79 L282.66 582.3 L284.71 582.76 L286.76 583.18 L288.8 583.56 L290.85 583.9 L292.89 584.21 L294.94 584.49 L296.99 584.74 L299.03 584.97 L301.08 585.17 L303.12 585.36 L305.17 585.52 L307.21 585.67 L309.26 585.8 L311.31 585.92 L313.35 586.03 L315.4 586.13 L317.44 586.21 L319.49 586.29 L321.54 586.36 L323.58 586.42 L325.63 586.47 L327.67 586.52 L329.72 586.57 L331.77 586.6 L333.81 586.64 L335.86 586.67 L337.9 586.7 L339.95 586.72 L342 586.74 L344.04 586.76 L346.09 586.78 L348.13 586.79 L350.18 586.8 L352.22 586.82 L354.27 586.83 L356.32 586.83 L358.36 586.84 L360.41 586.85 L362.45 586.86 L364.5 586.86" stroke="#0b0b0b" stroke-width="1.9" fill="none" stroke-linejoin="round"/>
<path d="M78.08 385.39 L80.12 385.59 L82.17 385.8 L84.21 386.03 L86.26 386.26 L88.3 386.51 L90.35 386.78 L92.4 387.07 L94.44 387.37 L96.49 387.69 L98.53 388.03 L100.58 388.39 L102.63 388.77 L104.67 389.18 L106.72 389.62 L108.76 390.08 L110.81 390.58 L112.86 391.1 L114.9 391.66 L116.95 392.26 L118.99 392.89 L121.04 393.57 L123.08 394.29 L125.13 395.05 L127.18 395.87 L129.22 396.74 L131.27 397.67 L133.31 398.66 L135.36 399.71 L137.41 400.83 L139.45 402.03 L141.5 403.3 L143.54 404.65 L145.59 406.08 L147.64 407.61 L149.68 409.23 L151.73 410.95 L153.77 412.78 L155.82 414.71 L157.86 416.76 L159.91 418.93 L161.96 421.22 L164 423.63 L166.05 426.17 L168.09 428.85 L170.14 431.66 L172.19 434.6 L174.23 437.68 L176.28 440.9 L178.32 444.25 L180.37 447.74 L182.42 451.35 L184.46 455.09 L186.51 458.94 L188.55 462.91 L190.6 466.97 L192.64 471.12 L194.69 475.35 L196.74 479.64 L198.78 483.99 L200.83 488.37 L202.87 492.76 L204.92 497.16 L206.97 501.55 L209.01 505.9 L211.06 510.2 L213.1 514.44 L215.15 518.6 L217.2 522.67 L219.24 526.63 L221.29 530.47 L223.33 534.18 L225.38 537.75 L227.43 541.18 L229.47 544.45 L231.52 547.57 L233.56 550.53 L235.61 553.34 L237.65 555.98 L239.7 558.47 L241.75 560.8 L243.79 562.98 L245.84 565.01 L247.88 566.9 L249.93 568.66 L251.98 570.29 L254.02 571.79 L256.07 573.17 L258.11 574.45 L260.16 575.62 L262.21 576.69 L264.25 577.67 L266.3 578.57 L268.34 579.38 L270.39 580.13 L272.43 580.81 L274.48 581.42 L276.53 581.98 L278.57 582.48 L280.62 582.94 L282.66 583.35 L284.71 583.72 L286.76 584.06 L288.8 584.36 L290.85 584.64 L292.89 584.88 L294.94 585.1 L296.99 585.3 L299.03 585.47 L301.08 585.63 L303.12 585.77 L305.17 585.9 L307.21 586.01 L309.26 586.11 L311.31 586.2 L313.35 586.28 L315.4 586.35 L317.44 586.42 L319.49 586.47 L321.54 586.52 L323.58 586.57 L325.63 586.61 L327.67 586.64 L329.72 586.67 L331.77 586.7 L333.81 586.72 L335.86 586.75 L337.9 586.76 L339.95 586.78 L342 586.8 L344.04 586.81 L346.09 586.82 L348.13 586.83 L350.18 586.84 L352.22 586.85 L354.27 586.85 L356.32 586.86 L358.36 586.86 L360.41 586.87 L362.45 586.87 L364.5 586.88" stroke="#0b0b0b" stroke-width="1.9" fill="none" stroke-linejoin="round"/>
<path d="M78.08 386.29 L80.12 386.62 L82.17 386.97 L84.21 387.34 L86.26 387.74 L88.3 388.16 L90.35 388.61 L92.4 389.09 L94.44 389.6 L96.49 390.15 L98.53 390.73 L100.58 391.35 L102.63 392.01 L104.67 392.72 L106.72 393.47 L108.76 394.27 L110.81 395.12 L112.86 396.03 L114.9 397 L116.95 398.03 L118.99 399.13 L121.04 400.29 L123.08 401.53 L125.13 402.84 L127.18 404.24 L129.22 405.72 L131.27 407.29 L133.31 408.95 L135.36 410.71 L137.41 412.57 L139.45 414.54 L141.5 416.61 L143.54 418.79 L145.59 421.09 L147.64 423.5 L149.68 426.03 L151.73 428.68 L153.77 431.45 L155.82 434.34 L157.86 437.35 L159.91 440.48 L161.96 443.72 L164 447.08 L166.05 450.55 L168.09 454.12 L170.14 457.78 L172.19 461.54 L174.23 465.38 L176.28 469.29 L178.32 473.26 L180.37 477.28 L182.42 481.34 L184.46 485.42 L186.51 489.52 L188.55 493.62 L190.6 497.71 L192.64 501.77 L194.69 505.79 L196.74 509.76 L198.78 513.66 L200.83 517.49 L202.87 521.24 L204.92 524.89 L206.97 528.43 L209.01 531.87 L211.06 535.19 L213.1 538.38 L215.15 541.45 L217.2 544.39 L219.24 547.2 L221.29 549.87 L223.33 552.41 L225.38 554.82 L227.43 557.1 L229.47 559.25 L231.52 561.28 L233.56 563.18 L235.61 564.97 L237.65 566.65 L239.7 568.21 L241.75 569.67 L243.79 571.04 L245.84 572.3 L247.88 573.48 L249.93 574.57 L251.98 575.59 L254.02 576.52 L256.07 577.39 L258.11 578.19 L260.16 578.93 L262.21 579.61 L264.25 580.24 L266.3 580.81 L268.34 581.34 L270.39 581.83 L272.43 582.28 L274.48 582.69 L276.53 583.06 L278.57 583.4 L280.62 583.72 L282.66 584.01 L284.71 584.27 L286.76 584.51 L288.8 584.73 L290.85 584.93 L292.89 585.11 L294.94 585.28 L296.99 585.43 L299.03 585.57 L301.08 585.69 L303.12 585.81 L305.17 585.91 L307.21 586 L309.26 586.09 L311.31 586.17 L313.35 586.24 L315.4 586.3 L317.44 586.36 L319.49 586.41 L321.54 586.46 L323.58 586.5 L325.63 586.54 L327.67 586.58 L329.72 586.61 L331.77 586.64 L333.81 586.66 L335.86 586.69 L337.9 586.71 L339.95 586.73 L342 586.75 L344.04 586.76 L346.09 586.78 L348.13 586.79 L350.18 586.8 L352.22 586.81 L354.27 586.82 L356.32 586.83 L358.36 586.83 L360.41 586.84 L362.45 586.85 L364.5 586.85" stroke="#0b0b0b" stroke-width="1.9" fill="none" stroke-linejoin="round"/>
<path d="M78.08 388.02 L80.12 388.42 L82.17 388.85 L84.21 389.31 L86.26 389.8 L88.3 390.32 L90.35 390.87 L92.4 391.46 L94.44 392.09 L96.49 392.76 L98.53 393.48 L100.58 394.24 L102.63 395.04 L104.67 395.91 L106.72 396.82 L108.76 397.8 L110.81 398.84 L112.86 399.95 L114.9 401.12 L116.95 402.37 L118.99 403.7 L121.04 405.11 L123.08 406.61 L125.13 408.2 L127.18 409.88 L129.22 411.66 L131.27 413.55 L133.31 415.54 L135.36 417.65 L137.41 419.87 L139.45 422.21 L141.5 424.66 L143.54 427.24 L145.59 429.95 L147.64 432.78 L149.68 435.74 L151.73 438.83 L153.77 442.04 L155.82 445.37 L157.86 448.83 L159.91 452.39 L161.96 456.07 L164 459.85 L166.05 463.72 L168.09 467.68 L170.14 471.72 L172.19 475.82 L174.23 479.97 L176.28 484.16 L178.32 488.37 L180.37 492.59 L182.42 496.81 L184.46 501.01 L186.51 505.18 L188.55 509.3 L190.6 513.36 L192.64 517.35 L194.69 521.24 L196.74 525.04 L198.78 528.74 L200.83 532.31 L202.87 535.76 L204.92 539.08 L206.97 542.27 L209.01 545.31 L211.06 548.21 L213.1 550.97 L215.15 553.59 L217.2 556.06 L219.24 558.39 L221.29 560.58 L223.33 562.64 L225.38 564.57 L227.43 566.37 L229.47 568.04 L231.52 569.61 L233.56 571.06 L235.61 572.4 L237.65 573.65 L239.7 574.8 L241.75 575.86 L243.79 576.84 L245.84 577.74 L247.88 578.56 L249.93 579.32 L251.98 580.02 L254.02 580.65 L256.07 581.24 L258.11 581.77 L260.16 582.25 L262.21 582.7 L264.25 583.1 L266.3 583.46 L268.34 583.8 L270.39 584.1 L272.43 584.38 L274.48 584.62 L276.53 584.85 L278.57 585.06 L280.62 585.24 L282.66 585.41 L284.71 585.56 L286.76 585.7 L288.8 585.82 L290.85 585.93 L292.89 586.03 L294.94 586.12 L296.99 586.2 L299.03 586.28 L301.08 586.34 L303.12 586.4 L305.17 586.45 L307.21 586.5 L309.26 586.54 L311.31 586.58 L313.35 586.62 L315.4 586.65 L317.44 586.67 L319.49 586.7 L321.54 586.72 L323.58 586.74 L325.63 586.76 L327.67 586.77 L329.72 586.79 L331.77 586.8 L333.81 586.81 L335.86 586.82 L337.9 586.83 L339.95 586.84 L342 586.85 L344.04 586.85 L346.09 586.86 L348.13 586.86 L350.18 586.87 L352.22 586.87 L354.27 586.87 L356.32 586.88 L358.36 586.88 L360.41 586.88 L362.45 586.88 L364.5 586.89" stroke="#0b0b0b" stroke-width="1.9" fill="none" stroke-linejoin="round"/>
<path d="M207.5 410.5 V451.5 M203.1 410.5 H211.9 M203.1 451.5 H211.9" stroke="#0d0d0d" stroke-width="1.15" fill="none"/>
<path d="M207.5 405.5 V446.5 M203.1 405.5 H211.9 M203.1 446.5 H211.9" stroke="#0d0d0d" stroke-width="1.15" fill="none"/>
<path d="M207.5 433.5 V467.5 M203.1 433.5 H211.9 M203.1 467.5 H211.9" stroke="#0d0d0d" stroke-width="1.15" fill="none"/>
<path d="M207.5 488.5 V509.5 M203.1 488.5 H211.9 M203.1 509.5 H211.9" stroke="#0d0d0d" stroke-width="1.15" fill="none"/>
<path d="M207.5 467.5 V512.5 M203.1 467.5 H211.9 M203.1 512.5 H211.9" stroke="#0d0d0d" stroke-width="1.15" fill="none"/>
<path d="M207.5 512.5 V541.5 M203.1 512.5 H211.9 M203.1 541.5 H211.9" stroke="#0d0d0d" stroke-width="1.15" fill="none"/>
<path d="M207.5 526.5 V557.5 M203.1 526.5 H211.9 M203.1 557.5 H211.9" stroke="#0d0d0d" stroke-width="1.15" fill="none"/>
<path d="M221.5 440.5 V477.5 M217.1 440.5 H225.9 M217.1 477.5 H225.9" stroke="#0d0d0d" stroke-width="1.15" fill="none"/>
<path d="M221.5 461.5 V490.5 M217.1 461.5 H225.9 M217.1 490.5 H225.9" stroke="#0d0d0d" stroke-width="1.15" fill="none"/>
<path d="M221.5 488.5 V522.5 M217.1 488.5 H225.9 M217.1 522.5 H225.9" stroke="#0d0d0d" stroke-width="1.15" fill="none"/>
<path d="M221.5 522.5 V544.5 M217.1 522.5 H225.9 M217.1 544.5 H225.9" stroke="#0d0d0d" stroke-width="1.15" fill="none"/>
<path d="M221.5 515.5 V544.5 M217.1 515.5 H225.9 M217.1 544.5 H225.9" stroke="#0d0d0d" stroke-width="1.15" fill="none"/>
<path d="M221.5 536.5 V568.5 M217.1 536.5 H225.9 M217.1 568.5 H225.9" stroke="#0d0d0d" stroke-width="1.15" fill="none"/>
<path d="M221.5 543.5 V563.5 M217.1 543.5 H225.9 M217.1 563.5 H225.9" stroke="#0d0d0d" stroke-width="1.15" fill="none"/>
<path d="M254.5 498.5 V537.5 M250.1 498.5 H258.9 M250.1 537.5 H258.9" stroke="#0d0d0d" stroke-width="1.15" fill="none"/>
<path d="M254.5 510.5 V549.5 M250.1 510.5 H258.9 M250.1 549.5 H258.9" stroke="#0d0d0d" stroke-width="1.15" fill="none"/>
<path d="M254.5 540.5 V564.5 M250.1 540.5 H258.9 M250.1 564.5 H258.9" stroke="#0d0d0d" stroke-width="1.15" fill="none"/>
<path d="M254.5 560.5 V574.5 M250.1 560.5 H258.9 M250.1 574.5 H258.9" stroke="#0d0d0d" stroke-width="1.15" fill="none"/>
<path d="M254.5 574.5 V583.5 M250.1 574.5 H258.9 M250.1 583.5 H258.9" stroke="#0d0d0d" stroke-width="1.15" fill="none"/>
<path d="M254.5 572.5 V581.5 M250.1 572.5 H258.9 M250.1 581.5 H258.9" stroke="#0d0d0d" stroke-width="1.15" fill="none"/>
<path d="M254.5 577.5 V583.5 M250.1 577.5 H258.9 M250.1 583.5 H258.9" stroke="#0d0d0d" stroke-width="1.15" fill="none"/>
<ellipse cx="207.3" cy="430.8" rx="3.95" ry="3.85" fill="#fff" stroke="#0b0b0b" stroke-width="1.9"/>
<ellipse cx="207.3" cy="426" rx="4.5" ry="4.4" fill="#0b0b0b"/>
<rect x="202.95" y="447.1" width="8.7" height="8.4" fill="#0b0b0b"/>
<path d="M207.3 490.5 L211.85 498.7 L202.75 498.7 Z" fill="#0b0b0b"/>
<rect x="203.1" y="486.25" width="8.4" height="8.5" fill="#fff" stroke="#0b0b0b" stroke-width="1.7"/>
<path d="M207.3 520.9 L212.85 532.3 L201.75 532.3 Z" fill="#0b0b0b"/>
<path d="M207.3 525.24 L209.81 530.4 L204.79 530.4 Z" fill="#fff"/>
<path d="M207.3 545.6 L211.85 537.4 L202.75 537.4 Z" fill="#0b0b0b"/>
<ellipse cx="221.4" cy="458.8" rx="4.5" ry="4.4" fill="#0b0b0b"/>
<ellipse cx="221.4" cy="475.7" rx="3.95" ry="3.85" fill="#fff" stroke="#0b0b0b" stroke-width="1.9"/>
<rect x="217.05" y="501.5" width="8.7" height="8.4" fill="#0b0b0b"/>
<path d="M221.4 530.7 L225.95 538.9 L216.85 538.9 Z" fill="#0b0b0b"/>
<rect x="217.2" y="526.35" width="8.4" height="8.5" fill="#fff" stroke="#0b0b0b" stroke-width="1.7"/>
<path d="M221.4 546.5 L226.95 557.9 L215.85 557.9 Z" fill="#0b0b0b"/>
<path d="M221.4 550.84 L223.91 556 L218.89 556 Z" fill="#fff"/>
<path d="M221.4 557.9 L225.95 549.7 L216.85 549.7 Z" fill="#0b0b0b"/>
<ellipse cx="254.5" cy="517.7" rx="4.5" ry="4.4" fill="#0b0b0b"/>
<ellipse cx="254.5" cy="529.1" rx="3.95" ry="3.85" fill="#fff" stroke="#0b0b0b" stroke-width="1.9"/>
<rect x="250.15" y="548.3" width="8.7" height="8.4" fill="#0b0b0b"/>
<rect x="250.3" y="562.95" width="8.4" height="8.5" fill="#fff" stroke="#0b0b0b" stroke-width="1.7"/>
<path d="M254.5 572.8 L260.05 584.2 L248.95 584.2 Z" fill="#0b0b0b"/>
<path d="M254.5 577.14 L257.01 582.3 L251.99 582.3 Z" fill="#fff"/>
<path d="M254.5 572.1 L259.05 580.3 L249.95 580.3 Z" fill="#0b0b0b"/>
<path d="M254.5 585.1 L259.05 576.9 L249.95 576.9 Z" fill="#0b0b0b"/>
<path d="M57.9 373.6 V376" stroke="#0b0b0b" stroke-width="1.1"/>
<rect x="52.6" y="375.6" width="10.7" height="10.4" fill="#0b0b0b"/>
<ellipse cx="307.8" cy="375.6" rx="4.95" ry="4.84" fill="#0b0b0b"/>
<text x="322.3" y="379.7" class="lg" xml:space="preserve">1 min</text>
<ellipse cx="307.8" cy="398.5" rx="4.35" ry="4.24" fill="#fff" stroke="#0b0b0b" stroke-width="2.09"/>
<text x="322.3" y="402.7" class="lg" xml:space="preserve">1.5 min</text>
<rect x="303.01" y="415.38" width="9.57" height="9.24" fill="#0b0b0b"/>
<text x="322.3" y="424.2" class="lg" xml:space="preserve">2 min</text>
<rect x="303.18" y="437.82" width="9.24" height="9.35" fill="#fff" stroke="#0b0b0b" stroke-width="1.87"/>
<text x="322.3" y="446.7" class="lg" xml:space="preserve">2.5 min</text>
<path d="M307.8 460.19 L312.81 469.21 L302.8 469.21 Z" fill="#0b0b0b"/>
<text x="322.3" y="468.5" class="lg" xml:space="preserve">3 min</text>
<path d="M307.8 480.23 L313.91 492.77 L301.69 492.77 Z" fill="#0b0b0b"/>
<path d="M307.8 485 L310.56 490.68 L305.04 490.68 Z" fill="#fff"/>
<text x="322.3" y="491.5" class="lg" xml:space="preserve">3.5 min</text>
<path d="M307.8 512.11 L312.81 503.09 L302.8 503.09 Z" fill="#0b0b0b"/>
<text x="322.3" y="511.2" class="lg" xml:space="preserve">4 min</text>
</g>
</svg>
</body>
</html>
